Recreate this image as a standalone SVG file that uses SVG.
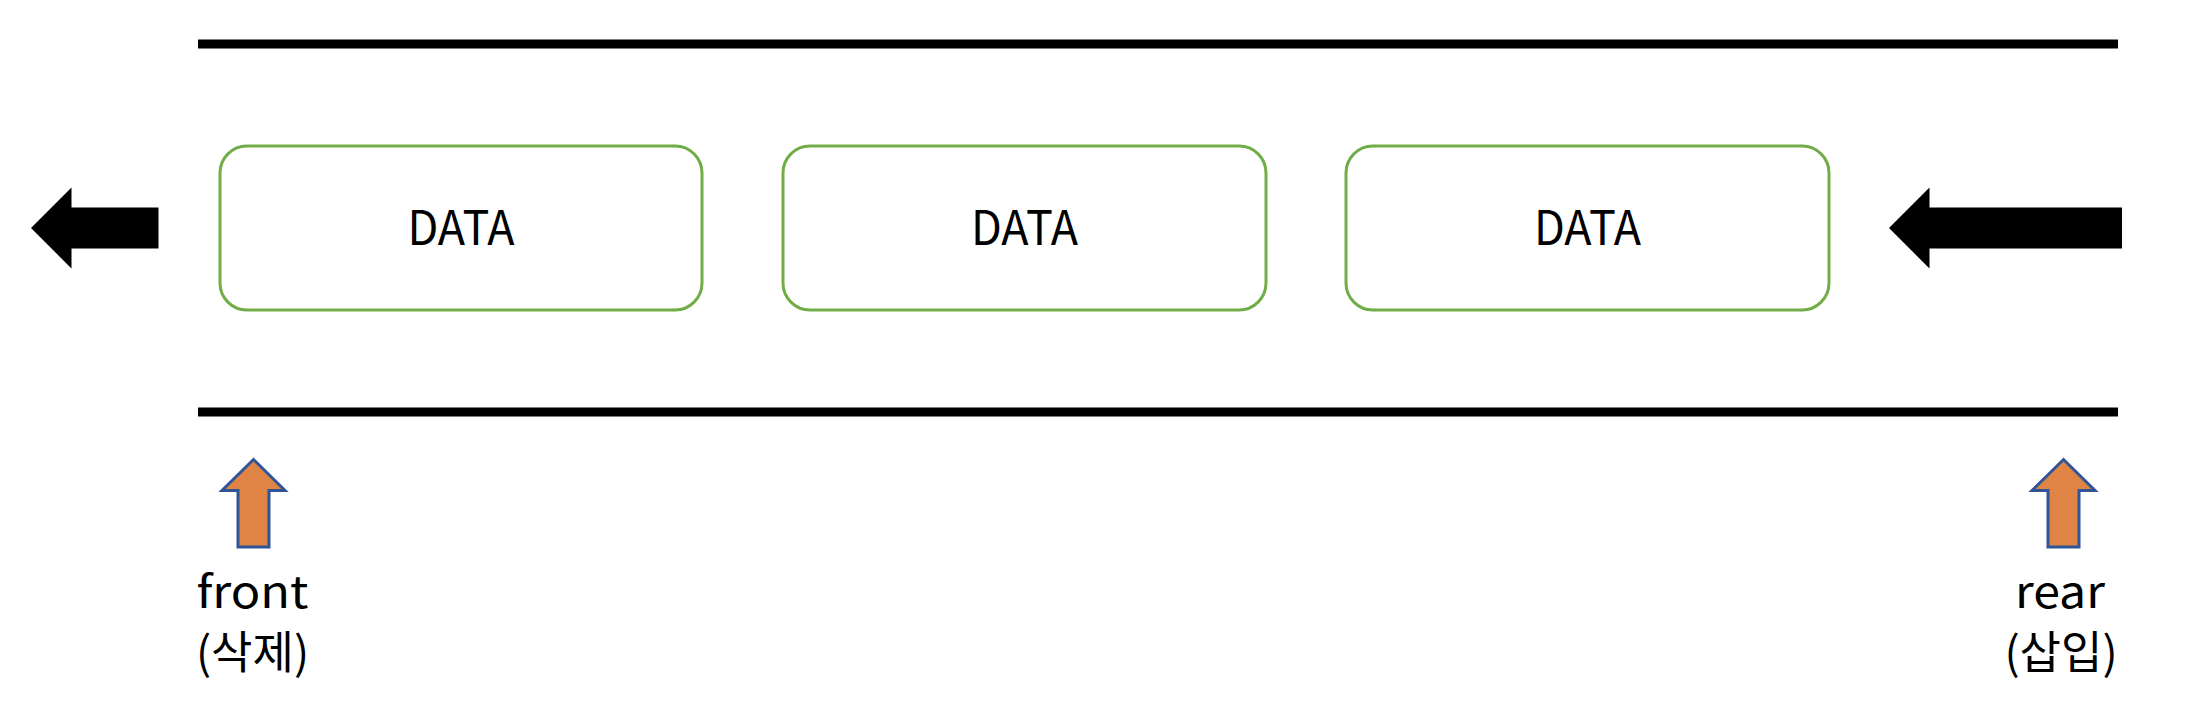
<svg xmlns="http://www.w3.org/2000/svg" width="2196" height="720" viewBox="0 0 2196 720">
  <style>
    .rail { stroke: #000; stroke-width: 9; }
    .box { fill: #fff; stroke: #70AD47; stroke-width: 3; }
    .data { font-family: "Noto Sans CJK KR", "Noto Sans", sans-serif; font-size: 48px; font-weight: 400; fill: #000; text-anchor: middle; }
    .flow { fill: #000; }
    .ptr { fill: #DF8444; stroke: #2F5597; stroke-width: 3; stroke-linejoin: miter; }
    .lbl { font-family: "Noto Sans CJK KR", "Noto Sans", sans-serif; font-size: 45px; fill: #000; text-anchor: middle; }
  </style>
  <rect width="2196" height="720" fill="#fff"/>
  <g id="rails">
    <line class="rail" x1="198" y1="44" x2="2118" y2="44"/>
    <line class="rail" x1="198" y1="412" x2="2118" y2="412"/>
  </g>
  <g id="node1">
    <rect class="box" x="220" y="146" width="482" height="164" rx="27" ry="27"/>
    <text class="data" x="461" y="245" textLength="107" lengthAdjust="spacingAndGlyphs">DATA</text>
  </g>
  <g id="node2">
    <rect class="box" x="783" y="146" width="483" height="164" rx="27" ry="27"/>
    <text class="data" x="1024.5" y="245" textLength="107" lengthAdjust="spacingAndGlyphs">DATA</text>
  </g>
  <g id="node3">
    <rect class="box" x="1346" y="146" width="483" height="164" rx="27" ry="27"/>
    <text class="data" x="1587.5" y="245" textLength="107" lengthAdjust="spacingAndGlyphs">DATA</text>
  </g>
  <g id="connectors">
    <polygon id="dequeue-arrow" class="flow" points="31,228 71.5,187.5 71.5,207.5 158.5,207.5 158.5,248.5 71.5,248.5 71.5,268.5"/>
    <polygon id="enqueue-arrow" class="flow" points="1889,228 1929.5,187.5 1929.5,207.5 2122,207.5 2122,248.5 1929.5,248.5 1929.5,268.5"/>
  </g>
  <g id="front">
    <polygon class="ptr" points="253.5,459.5 285,490.5 269,490.5 269,547 238,547 238,490.5 222,490.5"/>
    <text class="lbl" x="252.5" y="608" textLength="112" lengthAdjust="spacingAndGlyphs">front</text>
    <text class="lbl" x="252.5" y="669">(삭제)</text>
  </g>
  <g id="rear">
    <polygon class="ptr" points="2063.5,459.5 2095,490.5 2079,490.5 2079,547 2048,547 2048,490.5 2032,490.5"/>
    <text class="lbl" x="2060" y="608" textLength="90" lengthAdjust="spacingAndGlyphs">rear</text>
    <text class="lbl" x="2061" y="669">(삽입)</text>
  </g>
</svg>
